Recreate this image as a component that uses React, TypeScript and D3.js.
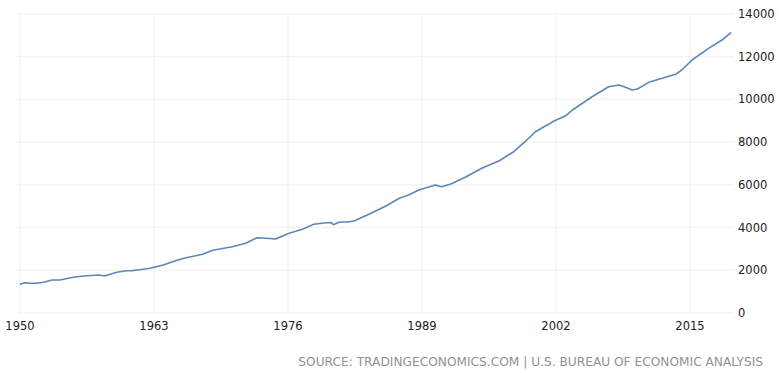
import { useEffect, useRef } from "react"
import * as d3 from "d3"

// Quarterly points (year, value)
const years = [
  1950.0, 1950.5, 1951.1, 1951.6, 1952.3, 1953.1, 1953.9, 1954.2, 1955.3, 1956.5,
  1957.7, 1958.2, 1959.4, 1960.3, 1960.9, 1961.4, 1962.6, 1963.9, 1964.8, 1965.9,
  1967.7, 1968.7, 1970.6, 1971.9, 1973.0, 1973.9, 1974.8, 1976.1, 1977.4, 1978.5,
  1979.7, 1980.2, 1980.4, 1981.0, 1981.8, 1982.4, 1983.9, 1985.5, 1986.8, 1987.7,
  1988.7, 1990.3, 1990.9, 1991.8, 1993.2, 1994.8, 1996.5, 1997.9, 1999.0, 2000.0,
  2001.0, 2001.3, 2001.8, 2002.9, 2003.6, 2005.5, 2007.1, 2008.1, 2008.6, 2009.4,
  2009.9, 2011.0, 2012.3, 2013.6, 2014.2, 2015.2, 2016.8, 2018.1, 2019.0,
]
const values = [
  1344, 1419, 1390, 1395, 1437, 1545, 1545, 1578, 1686, 1746,
  1779, 1732, 1905, 1980, 1985, 2013, 2093, 2247, 2402, 2561,
  2748, 2935, 3104, 3263, 3526, 3497, 3465, 3732, 3919, 4153,
  4228, 4240, 4134, 4261, 4261, 4307, 4635, 5010, 5370, 5525,
  5759, 5993, 5914, 6040, 6353, 6775, 7131, 7552, 8020, 8489,
  8770, 8834, 8989, 9223, 9505, 10127, 10595, 10675, 10595, 10441,
  10487, 10800, 10987, 11175, 11377, 11845, 12393, 12782, 13143,
]
const xTicks = [1950, 1963, 1976, 1989, 2002, 2015]
const yTicks = [0, 2000, 4000, 6000, 8000, 10000, 12000, 14000]
const sourceText = "SOURCE: TRADINGECONOMICS.COM | U.S. BUREAU OF ECONOMIC ANALYSIS"

const W = 779
const H = 373

export default function App() {
  const svgRef = useRef<SVGSVGElement>(null)

  useEffect(() => {
    if (!svgRef.current) return
    const svg = d3.select(svgRef.current)
    svg.selectAll("*").remove()

    const x = d3.scaleLinear().domain([1950, 2015]).range([20, 690])
    const y = d3.scaleLinear().domain([0, 14000]).range([313, 14])
    const font = "DejaVu Sans, sans-serif"

    // horizontal grid
    svg.append("g")
      .selectAll("line")
      .data(yTicks)
      .join("line")
      .attr("x1", 17)
      .attr("x2", 734)
      .attr("y1", (d) => y(d))
      .attr("y2", (d) => y(d))
      .attr("stroke", "#efefef")

    // vertical grid
    svg.append("g")
      .selectAll("line")
      .data(xTicks)
      .join("line")
      .attr("x1", (d) => x(d))
      .attr("x2", (d) => x(d))
      .attr("y1", y(14000))
      .attr("y2", y(0))
      .attr("stroke", "#efefef")

    // y labels (right side)
    svg.append("g")
      .selectAll("text")
      .data(yTicks)
      .join("text")
      .attr("x", 738)
      .attr("y", (d) => y(d))
      .attr("dy", "0.35em")
      .style("font-family", font)
      .style("font-size", "11.5px")
      .style("fill", "#222")
      .text((d) => String(d))

    // x labels
    svg.append("g")
      .selectAll("text")
      .data(xTicks)
      .join("text")
      .attr("x", (d) => x(d))
      .attr("y", 330)
      .attr("text-anchor", "middle")
      .style("font-family", font)
      .style("font-size", "11.5px")
      .style("fill", "#222")
      .text((d) => String(d))

    const pts = years.map((yr, i) => [yr, values[i]] as [number, number])
    const line = d3
      .line<[number, number]>()
      .x((d) => x(d[0]))
      .y((d) => y(d[1]))

    svg.append("path")
      .datum(pts)
      .attr("d", line)
      .attr("fill", "none")
      .attr("stroke", "#5b87b7")
      .attr("stroke-width", 1.6)
      .attr("stroke-linejoin", "round")

    svg.append("text")
      .attr("x", 763)
      .attr("y", 366)
      .attr("text-anchor", "end")
      .style("font-family", font)
      .style("font-size", "12.2px")
      .style("fill", "#929292")
      .text(sourceText)
  }, [])

  return (
    <svg
      ref={svgRef}
      width={W}
      height={H}
      style={{ position: "absolute", left: 0, top: 0, background: "#fff" }}
    />
  )
}
